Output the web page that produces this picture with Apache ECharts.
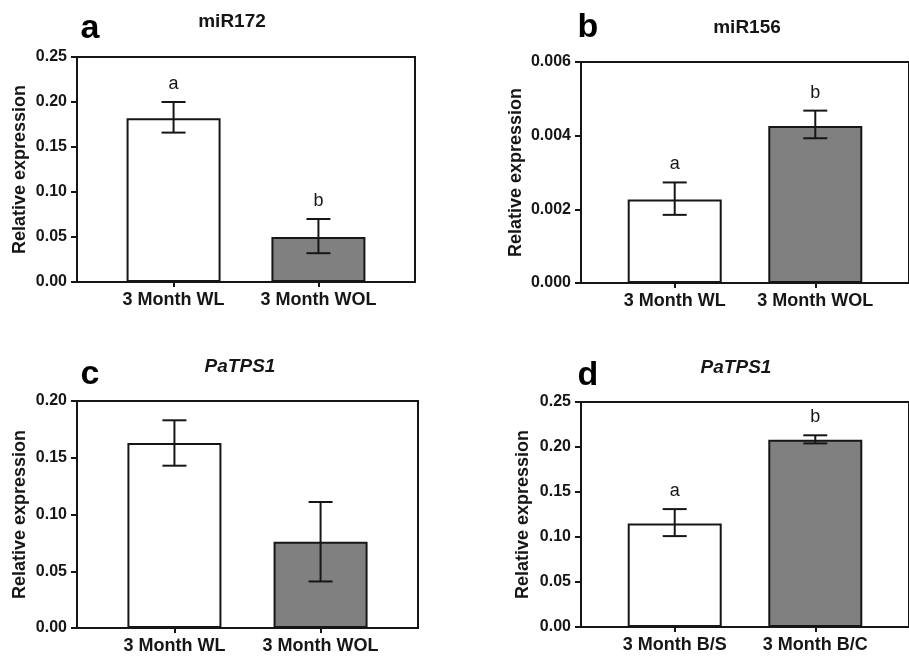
<!DOCTYPE html>
<html>
<head>
<meta charset="utf-8">
<script src="https://cdn.jsdelivr.net/npm/echarts@6/dist/echarts.min.js"></script>
<style>html,body{margin:0;padding:0;background:#fff}#c{width:909px;height:656px}</style>
</head>
<body>
<div id="c"></div>
<script>
// ---- data ----
const catsA = ['3 Month WL', '3 Month WOL'];
const meanA = [0.182, 0.050];
const lowA = [0.166, 0.032];
const highA = [0.200, 0.070];
const lettersA = ['a', 'b'];

const catsB = ['3 Month WL', '3 Month WOL'];
const meanB = [0.00227, 0.00426];
const lowB = [0.00185, 0.00393];
const highB = [0.00273, 0.00468];
const lettersB = ['a', 'b'];

const catsC = ['3 Month WL', '3 Month WOL'];
const meanC = [0.163, 0.076];
const lowC = [0.143, 0.041];
const highC = [0.183, 0.111];
const lettersC = ['', ''];

const catsD = ['3 Month B/S', '3 Month B/C'];
const meanD = [0.115, 0.208];
const lowD = [0.101, 0.204];
const highD = [0.131, 0.213];
const lettersD = ['a', 'b'];

const yTicksA = {max: 0.25, interval: 0.05, digits: 2};
const yTicksB = {max: 0.006, interval: 0.002, digits: 3};
const yTicksC = {max: 0.20, interval: 0.05, digits: 2};
const yTicksD = {max: 0.25, interval: 0.05, digits: 2};

const titles = ['miR172', 'miR156', 'PaTPS1', 'PaTPS1'];
const panelLetters = ['a', 'b', 'c', 'd'];

// ---- layout / style ----
const FONT = 'Liberation Sans, Arial, sans-serif';
const INK = '#161616';
const fills = ['#ffffff', '#808080'];
const grids = [
  {left: 77, top: 57, width: 338, height: 225},
  {left: 581, top: 62, width: 333, height: 221},
  {left: 77, top: 401, width: 341, height: 227},
  {left: 581, top: 402, width: 338, height: 225}
];
// two real categories placed at slots 2 and 5 of 8 (boundaryGap false)
const SLOTS = [2, 5];
function padCats(cats) {
  const out = ['', '', '', '', '', '', '', ''];
  SLOTS.forEach((s, i) => { out[s] = cats[i]; });
  return out;
}
function padVals(vals) {
  const out = ['-', '-', '-', '-', '-', '-', '-', '-'];
  SLOTS.forEach((s, i) => {
    out[s] = {value: vals[i], itemStyle: {color: fills[i]}};
  });
  return out;
}
function errData(low, high, letters) {
  return SLOTS.map((s, i) => [s, low[i], high[i], letters[i]]);
}

const panels = [
  [catsA, meanA, lowA, highA, lettersA, yTicksA],
  [catsB, meanB, lowB, highB, lettersB, yTicksB],
  [catsC, meanC, lowC, highC, lettersC, yTicksC],
  [catsD, meanD, lowD, highD, lettersD, yTicksD]
];
const nameGaps = [48, 56, 48, 49];

const xAxis = [], yAxis = [], series = [];
panels.forEach((p, k) => {
  const [cats, mean, low, high, letters, yt] = p;
  xAxis.push({
    type: 'category', gridIndex: k, boundaryGap: false, data: padCats(cats),
    axisLine: {lineStyle: {color: INK, width: 2}},
    axisTick: {show: true, length: 5, lineStyle: {color: INK, width: 2},
      interval: (i, v) => v !== ''},
    axisLabel: {interval: (i, v) => v !== '', color: INK, fontWeight: 'bold',
      fontSize: 18, fontFamily: FONT, margin: 9},
    splitLine: {show: false}
  });
  yAxis.push({
    type: 'value', gridIndex: k, min: 0, max: yt.max, interval: yt.interval,
    name: 'Relative expression', nameLocation: 'middle', nameGap: nameGaps[k],
    nameTextStyle: {fontWeight: 'bold', fontSize: 18, fontFamily: FONT, color: INK},
    axisLine: {show: true, lineStyle: {color: INK, width: 2}},
    axisTick: {show: true, length: 6, lineStyle: {color: INK, width: 2}},
    axisLabel: {color: INK, fontWeight: 'bold', fontSize: 16, fontFamily: FONT,
      margin: 10, formatter: v => v.toFixed(yt.digits)},
    splitLine: {show: false}
  });
  series.push({
    type: 'bar', xAxisIndex: k, yAxisIndex: k, barWidth: 94, z: 2,
    data: padVals(mean),
    itemStyle: {borderColor: INK, borderWidth: 2},
    emphasis: {disabled: true}, silent: true
  });
  series.push({
    type: 'custom', xAxisIndex: k, yAxisIndex: k, silent: true, z: 5,
    data: errData(low, high, letters),
    renderItem: (params, api) => {
      const top = api.coord([api.value(0), api.value(2)]);
      const bot = api.coord([api.value(0), api.value(1)]);
      const x = top[0], hw = 12;
      const st = {stroke: INK, lineWidth: 2};
      const children = [
        {type: 'line', shape: {x1: x, y1: top[1], x2: x, y2: bot[1]}, style: st},
        {type: 'line', shape: {x1: x - hw, y1: top[1], x2: x + hw, y2: top[1]}, style: st},
        {type: 'line', shape: {x1: x - hw, y1: bot[1], x2: x + hw, y2: bot[1]}, style: st}
      ];
      const letter = api.value(3);
      if (letter) {
        children.push({type: 'text', style: {text: letter, x: x, y: top[1] - 18,
          align: 'center', verticalAlign: 'middle', fontSize: 18, fontFamily: FONT,
          fill: INK}});
      }
      return {type: 'group', children: children};
    }
  });
});

const titleComps = [];
const titlePos = [[232, 12], [747, 18], [240, 357], [736, 358]];
titles.forEach((t, i) => {
  titleComps.push({text: t, left: titlePos[i][0], top: titlePos[i][1], textAlign: 'center',
    padding: 0,
    textStyle: {fontSize: 19, fontWeight: 'bold', fontFamily: FONT, color: INK,
      fontStyle: i >= 2 ? 'italic' : 'normal'}});
});
const letterPos = [[90, 12], [588, 11], [90, 358], [588, 359]];
panelLetters.forEach((t, i) => {
  titleComps.push({text: t, left: letterPos[i][0], top: letterPos[i][1], textAlign: 'center',
    padding: 0,
    textStyle: {fontSize: 34, fontWeight: 'bold', fontFamily: FONT, color: '#000'}});
});

const chart = echarts.init(document.getElementById('c'), null, {renderer: 'canvas'});
chart.setOption({
  animation: false,
  backgroundColor: '#ffffff',
  title: titleComps,
  grid: grids.map(g => Object.assign({show: true, borderColor: INK, borderWidth: 2,
    backgroundColor: 'transparent', containLabel: false}, g)),
  xAxis: xAxis,
  yAxis: yAxis,
  series: series
});
</script>
</body>
</html>
